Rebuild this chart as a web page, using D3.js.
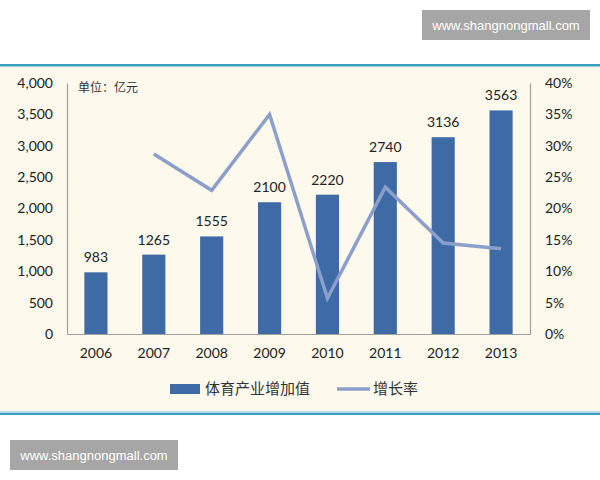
<!DOCTYPE html>
<html><head><meta charset="utf-8">
<script src="https://cdn.jsdelivr.net/npm/d3@7"></script>
<style>
html,body{margin:0;padding:0;background:#ffffff;}
svg{display:block;}
</style></head>
<body>
<svg id="chart" width="600" height="480"></svg>
<script>
const years = ["2006","2007","2008","2009","2010","2011","2012","2013"];
const values = [983,1265,1555,2100,2220,2740,3136,3563];
const growth = [null,28.7,22.9,35.0,5.7,23.4,14.5,13.6];
const leftTicks = [0,500,1000,1500,2000,2500,3000,3500,4000];
const rightTicks = [0,5,10,15,20,25,30,35,40];
const seriesNames = ["体育产业增加值","增长率"];
const unitLabel = "单位：亿元";
const watermark = "www.shangnongmall.com";

const svg = d3.select("#chart");
const numFont = "Lato, 'Open Sans', sans-serif";
const cjkFont = "'Noto Sans CJK SC', sans-serif";
const barColor = "#3e6aa6";
const lineColor = "#8c9fcb";

// panel
svg.append("rect").attr("x",0).attr("y",65).attr("width",600).attr("height",349).attr("fill","#fdf9ec");
svg.append("rect").attr("x",0).attr("y",64).attr("width",600).attr("height",2.5).attr("fill","#3b9fbf");
svg.append("rect").attr("x",0).attr("y",412.5).attr("width",600).attr("height",2.5).attr("fill","#3b9fbf");
svg.append("rect").attr("x",0).attr("y",411).attr("width",600).attr("height",1.5).attr("fill","#bfe3ee");

const x = d3.scaleBand().domain(years).range([67,530]).paddingInner(0.6).paddingOuter(0.3);
const y = d3.scaleLinear().domain([0,4000]).range([334,83]);
const y2 = d3.scaleLinear().domain([0,40]).range([334,83]);

// axes
const gL = svg.append("g").attr("transform","translate(67,0)")
  .call(d3.axisLeft(y).tickValues(leftTicks).tickSize(0).tickPadding(14).tickFormat(d3.format(",")));
gL.select(".domain").attr("stroke","#a0a0a0").attr("stroke-width",1.2);
gL.selectAll("text").attr("font-family",numFont).attr("font-size",14).attr("fill","#222");

const gR = svg.append("g").attr("transform","translate(530,0)")
  .call(d3.axisRight(y2).tickValues(rightTicks).tickSize(0).tickPadding(15).tickFormat(d=>d+"%"));
gR.select(".domain").attr("stroke","#a0a0a0").attr("stroke-width",1.2);
gR.selectAll("text").attr("font-family",numFont).attr("font-size",14).attr("fill","#222");

const gB = svg.append("g").attr("transform","translate(0,334)")
  .call(d3.axisBottom(x).tickSize(0).tickPadding(14));
gB.select(".domain").attr("stroke","#a0a0a0").attr("stroke-width",1.2);
gB.selectAll("text").attr("font-family",numFont).attr("font-size",14).attr("fill","#222");

// bars
svg.append("g").selectAll("rect").data(values).join("rect")
  .attr("x",(d,i)=>x(years[i])).attr("width",x.bandwidth())
  .attr("y",d=>y(d)).attr("height",d=>y(0)-y(d)).attr("fill",barColor);

svg.append("g").selectAll("text").data(values).join("text")
  .attr("x",(d,i)=>x(years[i])+x.bandwidth()/2).attr("y",d=>y(d)-10)
  .attr("text-anchor","middle").attr("font-family",numFont).attr("font-size",14).attr("fill","#222")
  .text(d=>d);

// line
const line = d3.line().defined(d=>d!=null)
  .x((d,i)=>x(years[i])+x.bandwidth()/2).y(d=>y2(d));
svg.append("path").datum(growth).attr("d",line)
  .attr("fill","none").attr("stroke",lineColor).attr("stroke-width",3.5).attr("stroke-linejoin","miter");

// unit label
svg.append("text").attr("x",78).attr("y",92).attr("font-family",cjkFont).attr("font-size",12).attr("fill","#333").text(unitLabel);

// legend
const lg = svg.append("g");
lg.append("rect").attr("x",170).attr("y",384).attr("width",30).attr("height",10).attr("fill",barColor);
lg.append("text").attr("x",205).attr("y",394).attr("font-family",cjkFont).attr("font-size",15).attr("fill","#333").text(seriesNames[0]);
lg.append("line").attr("x1",337).attr("x2",370).attr("y1",389).attr("y2",389).attr("stroke",lineColor).attr("stroke-width",3.5);
lg.append("text").attr("x",373).attr("y",394).attr("font-family",cjkFont).attr("font-size",15).attr("fill","#333").text(seriesNames[1]);

// watermarks
function wm(x0,y0){
  svg.append("rect").attr("x",x0).attr("y",y0).attr("width",168).attr("height",30).attr("fill","#a6a6a6");
  svg.append("text").attr("x",x0+84).attr("y",y0+20).attr("text-anchor","middle")
    .attr("font-family","'Liberation Sans', Arial, sans-serif").attr("font-size",13).attr("fill","#ffffff").text(watermark);
}
wm(422,10);
wm(10,440);
</script>
</body></html>
